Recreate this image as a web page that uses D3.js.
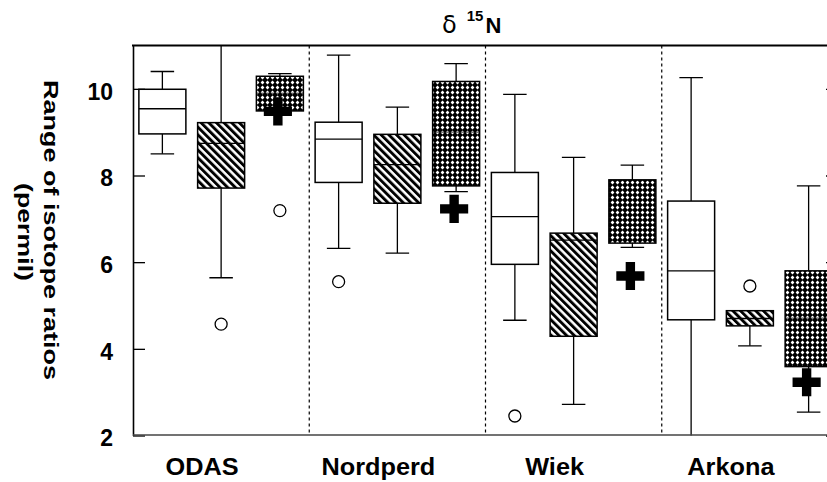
<!DOCTYPE html>
<html>
<head>
<meta charset="utf-8">
<script src="https://cdn.jsdelivr.net/npm/d3@7"></script>
<style>
  html, body { margin: 0; padding: 0; background: #fff; }
  svg { display: block; font-family: "Liberation Sans", Arial, sans-serif; }
</style>
</head>
<body>
<svg id="chart" width="827" height="482"></svg>
<script>
// ---- data ----
const groups = ["ODAS", "Nordperd", "Wiek", "Arkona"];
const seriesKeys = ["plain", "diagonal", "crosshatch"];
const whiskerLow  = [[8.50, 5.64, 9.45], [6.32, 6.21, 7.63], [4.66, 2.72, 6.34], [1.80, 4.07, 2.54]];
const quart1      = [[8.96, 7.71, 9.49], [7.84, 7.36, 7.76], [5.95, 4.29, 6.44], [4.67, 4.53, 3.59]];
const medians     = [[9.54, 8.74, 9.90], [8.84, 8.25, 9.00], [7.05, 6.51, 6.85], [5.80, 4.70, 4.71]];
const quart3      = [[9.99, 9.22, 10.29], [9.23, 8.95, 10.17], [8.07, 6.67, 7.90], [7.41, 4.88, 5.80]];
const whiskerHigh = [[10.40, 11.20, 10.35], [10.78, 9.58, 10.58], [9.87, 8.42, 8.24], [10.26, 4.88, 7.76]];
const outliers    = [[[], [4.57], [7.19]], [[5.55], [], []], [[2.45], [], []], [[], [5.45], []]];
const crossMeans  = [9.48, 7.23, 5.68, 3.23];
const yTicks = [2, 4, 6, 8, 10];
const titleMain = "δ";
const titleSup = "15";
const titleEnd = "N";
const yLabel1 = "Range of isotope ratios";
const yLabel2 = "(permil)";

// ---- layout ----
const svg = d3.select("#chart");
const mLeft = 133, mRight = 838, mTop = 45.5, mBottom = 435.5;

const x = d3.scaleBand().domain(groups).range([mLeft, mRight]).padding(0);
const xs = d3.scaleBand().domain(seriesKeys).range([0, x.bandwidth()])
  .paddingInner(0.2).paddingOuter(0.1);
const y = d3.scaleLinear().domain([2, 11]).range([mBottom, mTop]);

// patterns
const defs = svg.append("defs");
const pd = defs.append("pattern").attr("id", "diag").attr("patternUnits", "userSpaceOnUse")
  .attr("width", 5.4).attr("height", 5.4).attr("patternTransform", "rotate(-45)");
pd.append("rect").attr("width", 5.4).attr("height", 5.4).attr("fill", "#fff");
pd.append("rect").attr("x", 0).attr("width", 2.9).attr("height", 5.4).attr("fill", "#000");

const pc = defs.append("pattern").attr("id", "cross").attr("patternUnits", "userSpaceOnUse")
  .attr("width", 5).attr("height", 5);
pc.append("rect").attr("width", 5).attr("height", 5).attr("fill", "#000");
pc.append("path").attr("d", "M2.5,0.6 L4.4,2.5 L2.5,4.4 L0.6,2.5 Z").attr("fill", "#fff");

defs.append("clipPath").attr("id", "plotclip").append("rect")
  .attr("x", mLeft).attr("y", mTop).attr("width", mRight - mLeft).attr("height", mBottom - mTop);

const fills = { plain: "#fff", diagonal: "url(#diag)", crosshatch: "url(#cross)" };

// separators
svg.append("g").selectAll("line").data(groups.slice(1)).join("line")
  .attr("x1", d => x(d)).attr("x2", d => x(d))
  .attr("y1", mTop).attr("y2", mBottom)
  .attr("stroke", "#000").attr("stroke-width", 1.2).attr("stroke-dasharray", "3,3");

// boxes
const boxes = [];
groups.forEach((g, gi) => seriesKeys.forEach((s, si) => {
  boxes.push({ g, s, lo: whiskerLow[gi][si], q1: quart1[gi][si], med: medians[gi][si],
    q3: quart3[gi][si], hi: whiskerHigh[gi][si], out: outliers[gi][si],
    mean: si === 2 ? crossMeans[gi] : null });
}));

const plot = svg.append("g").attr("clip-path", "url(#plotclip)");
const bw = xs.bandwidth();
const cx = d => x(d.g) + xs(d.s) + bw / 2;

const bg = plot.selectAll("g.box").data(boxes).join("g").attr("class", "box");
// whiskers
bg.append("line").attr("x1", cx).attr("x2", cx).attr("y1", d => y(d.q3)).attr("y2", d => y(d.hi))
  .attr("stroke", "#000").attr("stroke-width", 1.3);
bg.append("line").attr("x1", cx).attr("x2", cx).attr("y1", d => y(d.q1)).attr("y2", d => y(d.lo))
  .attr("stroke", "#000").attr("stroke-width", 1.3);
bg.append("line").attr("x1", d => cx(d) - bw / 4).attr("x2", d => cx(d) + bw / 4)
  .attr("y1", d => y(d.hi)).attr("y2", d => y(d.hi)).attr("stroke", "#000").attr("stroke-width", 1.3);
bg.append("line").attr("x1", d => cx(d) - bw / 4).attr("x2", d => cx(d) + bw / 4)
  .attr("y1", d => y(d.lo)).attr("y2", d => y(d.lo)).attr("stroke", "#000").attr("stroke-width", 1.3);
// box
bg.append("rect").attr("x", d => cx(d) - bw / 2).attr("width", bw)
  .attr("y", d => y(d.q3)).attr("height", d => y(d.q1) - y(d.q3))
  .attr("fill", d => fills[d.s]).attr("stroke", "#000").attr("stroke-width", 1.5);
// median
bg.append("line").attr("x1", d => cx(d) - bw / 2).attr("x2", d => cx(d) + bw / 2)
  .attr("y1", d => y(d.med)).attr("y2", d => y(d.med))
  .attr("stroke", "#000").attr("stroke-width", d => d.s === "crosshatch" ? 0.8 : 1.3);
// outliers
bg.each(function (d) {
  d3.select(this).selectAll("circle").data(d.out).join("circle")
    .attr("cx", cx(d)).attr("cy", v => y(v)).attr("r", 6)
    .attr("fill", "#fff").attr("stroke", "#000").attr("stroke-width", 1.3);
});
// means
const cross = d3.symbol(d3.symbolCross, 440);
bg.filter(d => d.mean !== null).append("path")
  .attr("d", cross)
  .attr("transform", d => `translate(${cx(d) - 2},${y(d.mean)})`)
  .attr("fill", "#000");

// axes
const yl = svg.append("g").attr("transform", `translate(${mLeft},0)`)
  .call(d3.axisLeft(y).tickValues(yTicks).tickSizeInner(-12).tickSizeOuter(0).tickPadding(20).tickFormat(d3.format("d")));
yl.select(".domain").attr("stroke-width", 1.6);
yl.selectAll(".tick line").attr("stroke-width", 1.3);
yl.selectAll(".tick text").attr("font-size", 23).attr("font-weight", "bold")
  .attr("font-family", "Liberation Sans, Arial, sans-serif").attr("dy", "0.45em").attr("fill", "#000");

const yr = svg.append("g").attr("transform", `translate(${mRight},0)`)
  .call(d3.axisRight(y).tickValues(yTicks).tickSizeInner(-12).tickSizeOuter(0).tickFormat(""));
yr.selectAll(".tick line").attr("stroke-width", 1.3);

// top frame & bottom axis
svg.append("line").attr("x1", mLeft - 1).attr("x2", mRight).attr("y1", mTop).attr("y2", mTop)
  .attr("stroke", "#000").attr("stroke-width", 2.2);
svg.append("line").attr("x1", mLeft).attr("x2", mRight).attr("y1", mBottom - 0.5).attr("y2", mBottom - 0.5)
  .attr("stroke", "#444").attr("stroke-width", 1.3);

// x labels
svg.append("g").selectAll("text").data(groups).join("text")
  .attr("x", d => x(d) + x.bandwidth() / 2 - 19)
  .attr("y", 475)
  .attr("text-anchor", "middle")
  .attr("font-size", 23).attr("font-weight", "bold")
  .text(d => d)
  .each(function () {
    const w = this.getComputedTextLength();
    d3.select(this).attr("textLength", w * 1.1).attr("lengthAdjust", "spacingAndGlyphs");
  });

// title
const t = svg.append("text").attr("x", 442).attr("y", 33).attr("fill", "#000");
t.append("tspan").attr("font-size", 24).attr("font-family", "DejaVu Sans, sans-serif").text(titleMain);
t.append("tspan").attr("dx", 10).attr("dy", -12).attr("font-size", 15).attr("font-weight", "bold").text(titleSup);
t.append("tspan").attr("dx", 2).attr("dy", 12).attr("font-size", 22).attr("font-weight", "bold").text(titleEnd);

// y label
svg.append("text").attr("transform", "translate(44,230) rotate(90)")
  .attr("text-anchor", "middle").attr("font-size", 21).attr("font-weight", "bold")
  .attr("textLength", 300).attr("lengthAdjust", "spacingAndGlyphs").text(yLabel1);
svg.append("text").attr("transform", "translate(18,232) rotate(90)")
  .attr("text-anchor", "middle").attr("font-size", 21).attr("font-weight", "bold")
  .attr("textLength", 98).attr("lengthAdjust", "spacingAndGlyphs").text(yLabel2);
</script>
</body>
</html>
